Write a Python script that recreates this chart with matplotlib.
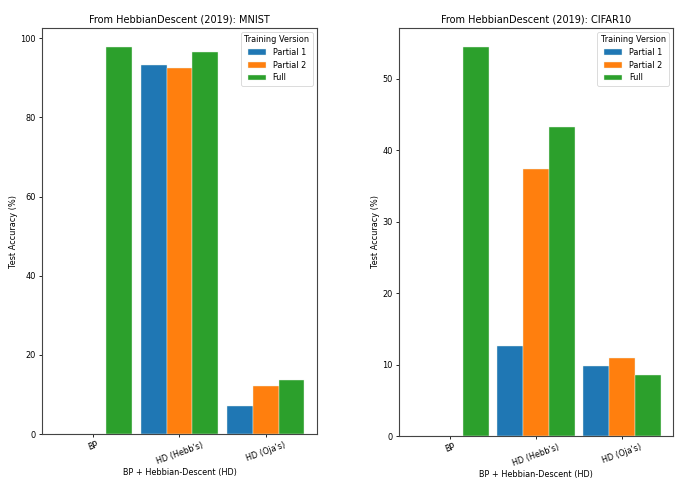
import matplotlib
matplotlib.use("Agg")
import matplotlib.pyplot as plt
import numpy as np

categories = ["BP", "HD (Hebb's)", "HD (Oja's)"]
series = ["Partial 1", "Partial 2", "Full"]
mnist_p1 = [0.0, 93.3, 7.2]
mnist_p2 = [0.0, 92.4, 12.1]
mnist_full = [97.7, 96.5, 13.7]
cifar_p1 = [0.0, 12.6, 9.8]
cifar_p2 = [0.0, 37.4, 10.9]
cifar_full = [54.4, 43.3, 8.5]

colors = ["#1f77b4", "#ff7f0e", "#2ca02c"]
fs = 5.9

fig = plt.figure(figsize=(6.89, 4.91), dpi=100)
ax1 = fig.add_axes([0.061, 0.116, 0.399, 0.827])
ax2 = fig.add_axes([0.579, 0.112, 0.398, 0.831])

def draw(ax, data, title):
    x = np.arange(len(categories))
    w = 0.3
    for i, (vals, name) in enumerate(zip(data, series)):
        ax.bar(x + (i - 1) * w, vals, w, label=name, color=colors[i],
               edgecolor="#e8f4e8", linewidth=0.3)
    ax.set_xticks(x)
    ax.set_xticklabels(categories, rotation=20, fontsize=fs)
    ax.tick_params(axis="y", labelsize=fs)
    ax.tick_params(width=0.6, length=2.5, pad=2)
    for s in ax.spines.values():
        s.set_linewidth(0.8)
        s.set_color("#444444")
    ax.set_title(title, fontsize=7.0, pad=4)
    ax.set_xlabel("BP + Hebbian-Descent (HD)", fontsize=fs, labelpad=2)
    ax.set_ylabel("Test Accuracy (%)", fontsize=fs, labelpad=2)
    leg = ax.legend(title="Training Version", fontsize=fs, title_fontsize=fs,
                    loc="upper right", handlelength=2.2, borderpad=0.4,
                    labelspacing=0.45)
    leg.get_frame().set_linewidth(0.6)

draw(ax1, [mnist_p1, mnist_p2, mnist_full], "From HebbianDescent (2019): MNIST")
draw(ax2, [cifar_p1, cifar_p2, cifar_full], "From HebbianDescent (2019): CIFAR10")

fig.savefig("out.png", dpi=100)
